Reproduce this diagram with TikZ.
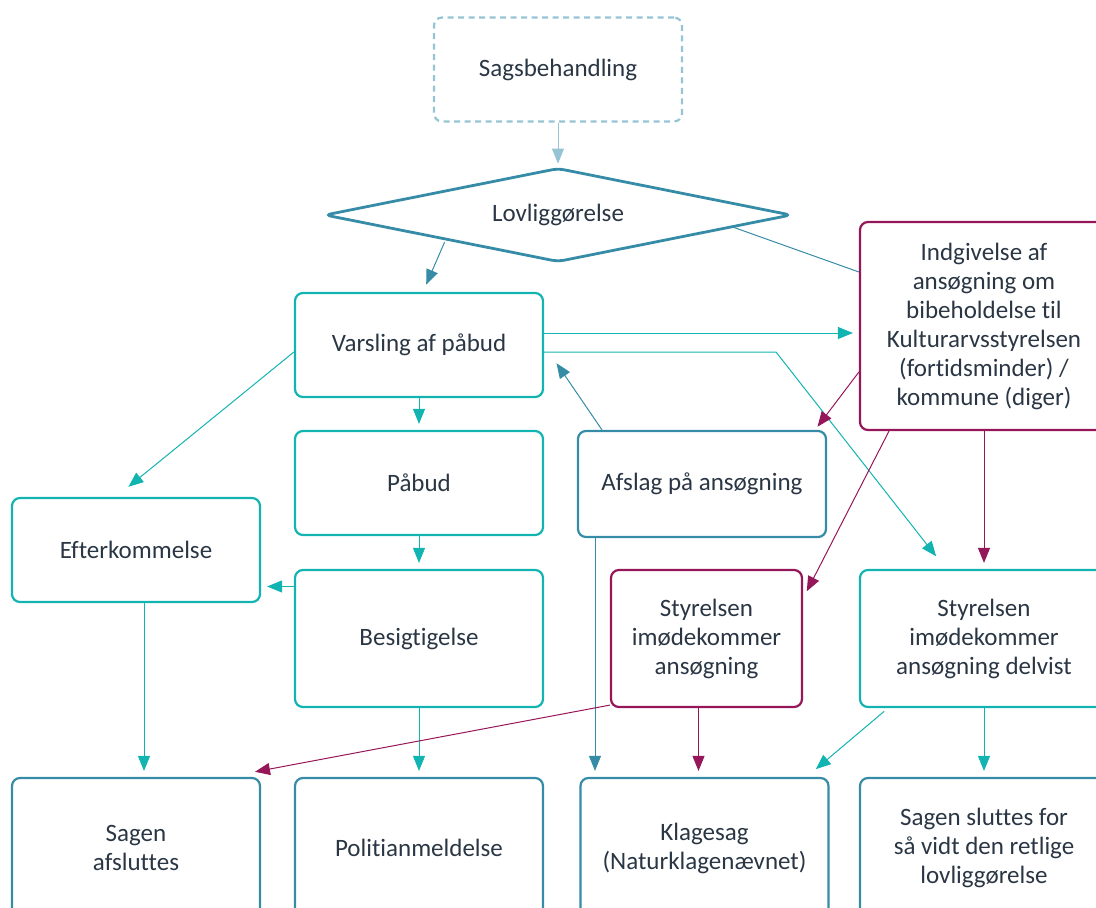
\documentclass[tikz,border=0pt]{standalone}
\usepackage{fontspec}
\setmainfont{Carlito}[Ligatures=NoCommon]
\usetikzlibrary{arrows.meta,shapes.geometric}
\definecolor{tealc}{RGB}{18,180,178}
\definecolor{darkc}{RGB}{54,140,166}
\definecolor{magc}{RGB}{150,22,90}
\definecolor{lightc}{RGB}{150,196,212}
\definecolor{textc}{RGB}{42,54,68}
\begin{document}
\begin{tikzpicture}[x=1pt,y=-1pt,
    box/.style={draw=tealc, line width=2.2pt, rounded corners=8pt,
        minimum width=248pt, minimum height=104pt, inner sep=4pt,
        align=center, text=textc, font=\fontsize{25}{29}\selectfont},
    arr/.style={line width=1pt, -{Triangle[length=15pt,width=12pt]}, shorten >=6pt},
    tealarr/.style={arr, draw=tealc},
    darkarr/.style={arr, draw=darkc},
    magarr/.style={arr, draw=magc}]
    \useasboundingbox (0,0) rectangle (1096,908);
    \clip (0,0) rectangle (1096,908);

    % Nodi in alto
    \node[box, draw=lightc, dash pattern=on 6pt off 4.5pt] (sag) at (558,69.5) {Sagsbehandling};
    \node[diamond, shape aspect=5, draw=darkc, line width=2.8pt, rounded corners=6pt,
        minimum width=467pt, minimum height=94pt, inner sep=0pt,
        text=textc, font=\fontsize{25}{29}\selectfont] (lov) at (558,215) {Lovliggørelse};
    \node[box] (varsling) at (419,345) {Varsling af påbud};
    \node[box, draw=magc, minimum height=208pt] (indg) at (984,326)
        {Indgivelse af\\ ansøgning om\\ bibeholdelse til\\ Kulturarvsstyrelsen\\ (fortidsminder) /\\ kommune (diger)};

    % Nodi in mezzo
    \node[box] (pabud) at (419,483) {Påbud};
    \node[box, draw=darkc, minimum height=106pt] (afslag) at (702,484) {Afslag på ansøgning};
    \node[box] (efter) at (136,550) {Efterkommelse};
    \node[box, minimum height=137pt] (besig) at (419,638.5) {Besigtigelse};
    \node[box, draw=magc, minimum width=191pt, minimum height=137pt] (styr1) at (706.5,638.5)
        {Styrelsen\\ imødekommer\\ ansøgning};
    \node[box, minimum height=137pt] (styr2) at (984,638.5)
        {Styrelsen\\ imødekommer\\ ansøgning delvist};

    % Nodi in basso
    \node[box, draw=darkc, minimum height=140pt] (sagen) at (136,848) {Sagen\\ afsluttes};
    \node[box, draw=darkc, minimum height=140pt] (politi) at (419,848) {Politianmeldelse};
    \node[box, draw=darkc, minimum height=140pt] (klage) at (704.5,848) {Klagesag\\ (Naturklagenævnet)};
    \node[box, draw=darkc, minimum height=140pt] (sluttes) at (984,848)
        {Sagen sluttes for\\ så vidt den retlige\\ lovliggørelse};

    % Punti ausiliari
    \coordinate (v1) at ([yshift=12pt]varsling.east);
    \coordinate (v2) at ([yshift=-7pt]varsling.east);
    \coordinate (k1) at (776,352);
    \coordinate (b1) at ([yshift=52pt]besig.west);
    \coordinate (a1) at ([xshift=-107pt]afslag.south);
    \coordinate (s1) at ([xshift=-8pt]styr1.south);

    % Frecce
    \draw[arr, draw=lightc, shorten >=3pt] (sag) -- (lov.north);
    \draw[darkarr, shorten >=8pt] ([xshift=4pt,yshift=-3pt]lov.south west) -- ([xshift=4pt]varsling.north);
    \draw[line width=1pt, darkc] (lov.-4) -- ([yshift=54pt]indg.west);
    \draw[tealarr] (v1) -- (v1 -| indg.west);
    \draw[tealarr, shorten >=16pt] (v2) -- (k1) -- ([xshift=-38pt]styr2.north);
    \draw[magarr, shorten >=4pt] ([yshift=-46pt]indg.west) -- ([xshift=-12pt]afslag.north east);
    \draw[magarr, shorten >=8pt] ([xshift=-95pt]indg.south) -- ([yshift=40pt]styr1.east);
    \draw[magarr] (indg.south) -- (styr2.north);
    \draw[darkarr, shorten >=22pt] ([xshift=-100pt]afslag.north) -- (varsling.east);
    \draw[tealarr] (varsling.south) -- (pabud.north);
    \draw[tealarr] (pabud.south) -- (besig.north);
    \draw[tealarr] (b1) -- (b1 -| efter.east);
    \draw[tealarr, shorten >=16pt] ([yshift=-7pt]varsling.west) -- ([xshift=-20pt]efter.north);
    \draw[tealarr] ([xshift=8pt]efter.south) -- ([xshift=8pt]sagen.north);
    \draw[tealarr] (besig.south) -- (politi.north);
    \draw[darkarr] (a1) -- (a1 |- klage.north);
    \draw[magarr] ([yshift=3pt]styr1.south west) -- ([xshift=-12pt,yshift=4pt]sagen.north east);
    \draw[magarr] (s1) -- (s1 |- klage.north);
    \draw[tealarr, shorten <=5pt, shorten >=12pt] ([xshift=-96pt]styr2.south) -- ([xshift=-23pt]klage.north east);
    \draw[tealarr] (styr2.south) -- (sluttes.north);
\end{tikzpicture}
\end{document}
